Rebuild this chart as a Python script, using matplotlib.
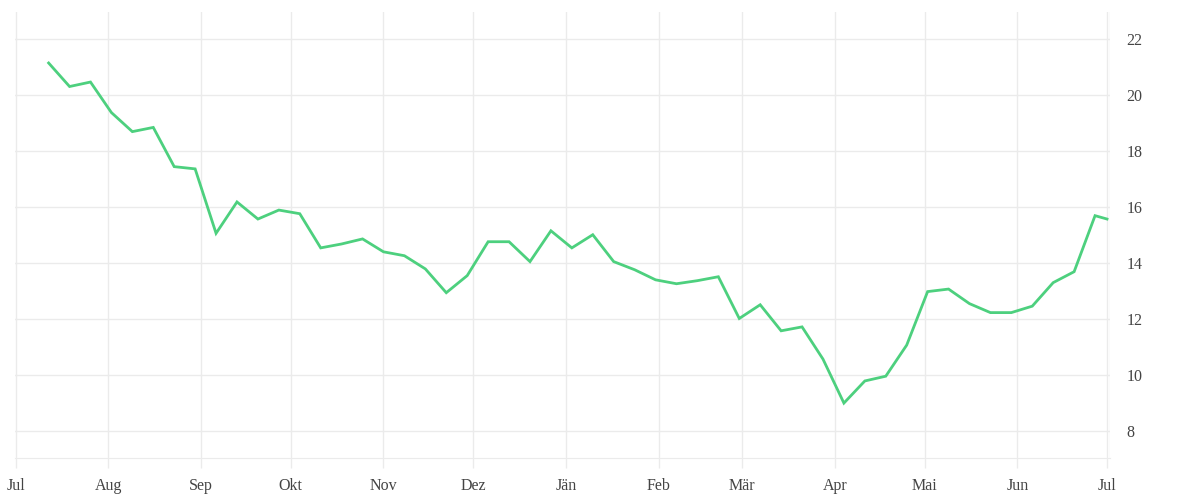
import numpy as np
import pandas as pd
import matplotlib
matplotlib.use("Agg")
import matplotlib.pyplot as plt
import matplotlib.dates as mdates

# weekly values, mid-July to end of June, plus one point on 1 July
dates = list(pd.date_range("2022-07-12", periods=51, freq="7D")) + [pd.Timestamp("2023-07-01")]
values = [21.14, 20.30, 20.46, 19.37, 18.69, 18.84, 17.44, 17.36, 15.06, 16.18,
          15.57, 15.89, 15.76, 14.54, 14.68, 14.86, 14.40, 14.26, 13.79, 12.94,
          13.55, 14.76, 14.76, 14.05, 15.15, 14.54, 15.01, 14.05, 13.76, 13.40,
          13.26, 13.37, 13.51, 12.02, 12.51, 11.58, 11.72, 10.57, 9.00, 9.79,
          9.96, 11.07, 12.98, 13.07, 12.55, 12.23, 12.23, 12.46, 13.30, 13.69,
          15.69, 15.57]

month_ticks = pd.date_range("2022-07-01", "2023-07-01", freq="MS")
month_labels = ["Jul", "Aug", "Sep", "Okt", "Nov", "Dez", "Jän", "Feb", "Mär",
                "Apr", "Mai", "Jun", "Jul"]
y_ticks = [8, 10, 12, 14, 16, 18, 20, 22]

plt.rcParams['font.family'] = ['Liberation Serif', 'DejaVu Serif']

fig = plt.figure(figsize=(12, 5), dpi=100)
ax = fig.add_axes([15 / 1200, 42 / 500, 1095 / 1200, 446 / 500])

grid_col = "#ebebeb"
ax.plot(dates, values, color="#4dd07e", lw=2.0, solid_joinstyle="miter", zorder=3)

ax.set_xlim(pd.Timestamp("2022-07-01") - pd.Timedelta(hours=6), pd.Timestamp("2023-07-02"))
ax.set_ylim(7.04, 22.96)

ax.set_xticks(month_ticks)
ax.set_xticklabels(month_labels)
ax.set_yticks(y_ticks)
ax.yaxis.tick_right()

ax.grid(True, color=grid_col, lw=1)
for s in ["top", "left", "right"]:
    ax.spines[s].set_visible(False)
ax.spines["bottom"].set_color(grid_col)
ax.axvline(pd.Timestamp("2023-07-02"), color=grid_col, lw=1)

ax.tick_params(axis="x", length=7.5, width=1, color=grid_col, pad=7,
               labelsize=11.5, labelcolor="#444444")
ax.tick_params(axis="y", length=0, pad=12, labelsize=11.5, labelcolor="#444444")
for lbl in ax.get_yticklabels():
    lbl.set_horizontalalignment("left")

fig.savefig("out.png", dpi=100)
